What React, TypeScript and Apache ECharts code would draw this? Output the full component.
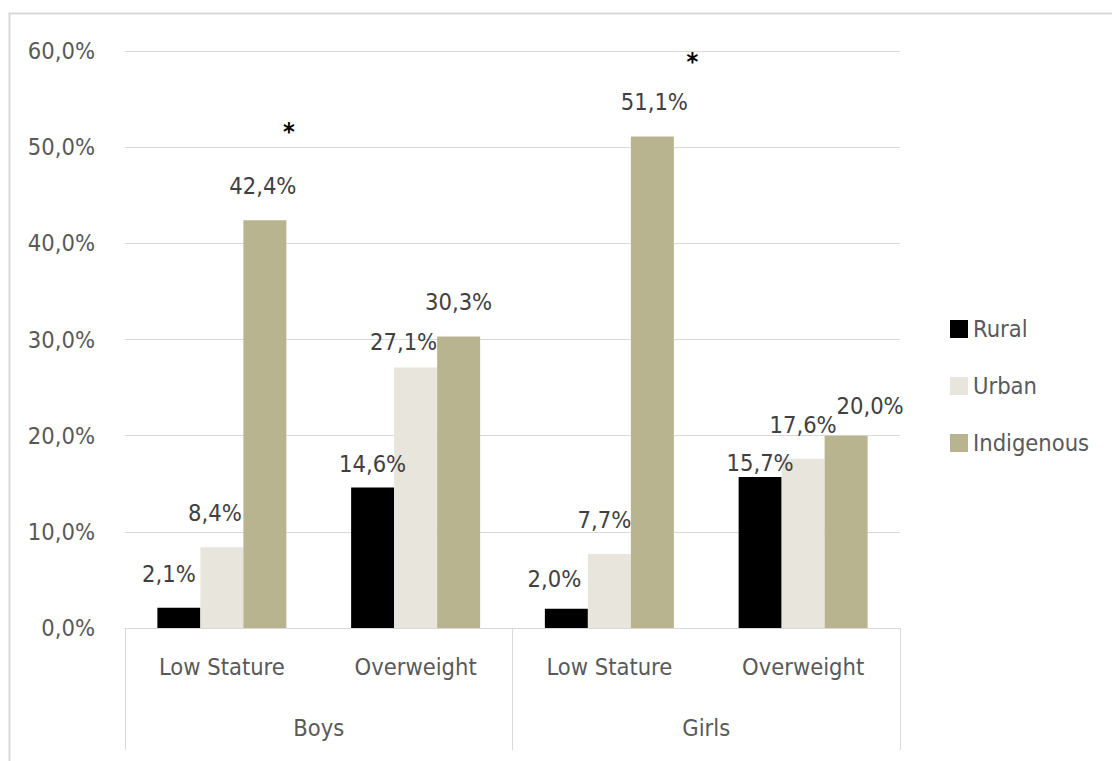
import React, { useEffect, useRef } from "react";
import * as echarts from "echarts";

const categories = ["Low Stature", "Overweight", "Low Stature", "Overweight"];
const groups = ["Boys", "Girls"];
const seriesNames = ["Rural", "Urban", "Indigenous"];
const rural = [2.1, 14.6, 2.0, 15.7];
const urban = [8.4, 27.1, 7.7, 17.6];
const indigenous = [42.4, 30.3, 51.1, 20.0];
const yTicks = [0, 10, 20, 30, 40, 50, 60];
// significance markers on the Indigenous bars (category indices)
const starIdx = [0, 2];

const colors = ["#000000", "#e7e5dc", "#b8b48f"];
// label nudges (style only): [dx, dy] relative to default "top" placement
const labelOffsets = [
  [[-10, -17], [0, -7], [-12, -13], [0, 3]],
  [[-7, -17], [-12, -8], [-5, -17], [0, -17]],
  [[-2, -17], [0, -18], [2, -18], [24, -13]],
];
const starOffsets = [[24, -89], [40, -75]];

const FONT = "'DejaVu Sans Condensed', 'DejaVu Sans', sans-serif";
const FS = 23.5;
const fmt = (v: number) => v.toFixed(1).replace(".", ",") + "%";

export default function App() {
  const ref = useRef<HTMLDivElement>(null);
  useEffect(() => {
    document.body.style.margin = "0";
    const chart = echarts.init(ref.current!, null, { renderer: "svg" });
    const values = [rural, urban, indigenous];
    const series: any[] = seriesNames.map((name, si) => ({
      name,
      type: "bar",
      barWidth: 43,
      barGap: "0%",
      itemStyle: { color: colors[si] },
      data: values[si].map((v, i) => ({
        value: v,
        label: { offset: labelOffsets[si][i] },
      })),
      label: {
        show: true,
        position: "top",
        distance: 5,
        formatter: (p: any) => fmt(p.value),
        color: "#404040",
        fontSize: FS,
        fontFamily: FONT,
      },
    }));
    series[2].markPoint = {
      symbol: "circle",
      symbolSize: 0,
      data: starIdx.map((ci, k) => ({
        coord: [ci, indigenous[ci]],
        label: {
          show: true,
          formatter: "*",
          position: "inside",
          offset: starOffsets[k],
          color: "#000",
          fontSize: 25,
          fontWeight: "bold",
          fontFamily: FONT,
        },
      })),
    };
    chart.setOption({
      animation: false,
      textStyle: { fontFamily: FONT },
      graphic: [
        {
          type: "rect",
          shape: { x: 9.5, y: 13.5, width: 1110, height: 760 },
          style: { fill: "none", stroke: "#d9d9d9", lineWidth: 2 },
          silent: true,
        },
      ],
      grid: { left: 125, right: 212, top: 51, bottom: 133, containLabel: false },
      legend: {
        orient: "vertical",
        left: 945,
        top: 312,
        itemWidth: 18,
        itemHeight: 18,
        itemGap: 33,
        icon: "rect",
        data: seriesNames,
        textStyle: { color: "#595959", fontSize: FS, fontFamily: FONT },
      },
      xAxis: [
        {
          type: "category",
          data: categories,
          axisLine: { show: true, lineStyle: { color: "#d9d9d9", width: 1 } },
          axisTick: { show: false },
          axisLabel: {
            interval: 0,
            margin: 27,
            color: "#595959",
            fontSize: FS,
            fontFamily: FONT,
          },
        },
        {
          type: "category",
          data: groups,
          position: "bottom",
          axisLine: { show: false },
          axisTick: {
            show: true,
            interval: 0,
            length: 122,
            lineStyle: { color: "#d9d9d9", width: 1 },
          },
          axisLabel: {
            interval: 0,
            margin: 88,
            color: "#595959",
            fontSize: FS,
            fontFamily: FONT,
          },
        },
      ],
      yAxis: {
        type: "value",
        min: yTicks[0],
        max: yTicks[yTicks.length - 1],
        interval: 10,
        axisLine: { show: false },
        axisTick: { show: false },
        splitLine: { lineStyle: { color: "#d9d9d9", width: 1 } },
        axisLabel: {
          margin: 30,
          color: "#595959",
          fontSize: FS,
          fontFamily: FONT,
          formatter: (v: number) => fmt(v),
        },
      },
      series,
    });
    return () => chart.dispose();
  }, []);
  return <div ref={ref} style={{ width: 1112, height: 761 }} />;
}
